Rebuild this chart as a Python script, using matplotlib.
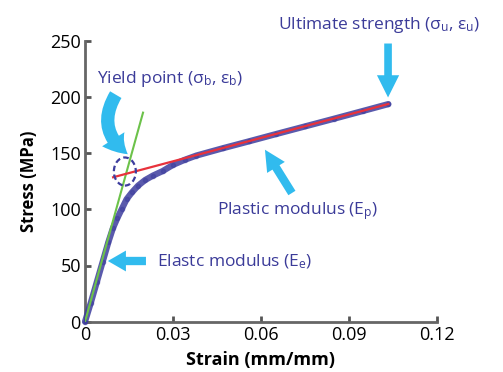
import matplotlib
matplotlib.use("Agg")
import matplotlib.pyplot as plt
from matplotlib.patches import Ellipse

plt.rcParams['font.family'] = ['Open Sans', 'DejaVu Sans']
plt.rcParams['mathtext.default'] = 'regular'

# ---- data ----
strain = [0, 0.002, 0.004, 0.006, 0.008, 0.0095, 0.011, 0.0125, 0.0142, 0.016,
          0.0181, 0.0205, 0.0232, 0.0265, 0.030, 0.034, 0.038, 0.047, 0.056, 0.065,
          0.075, 0.085, 0.095, 0.1035]
stress = [0, 17, 35, 53, 71, 83, 92, 100, 109, 115,
          121, 126, 130, 134, 139.5, 144, 147.8, 154.3, 160.5, 166.8,
          173.7, 180.6, 187.6, 193.6]
elastic_strain = [0, 0.0198]
elastic_stress = [0, 186]
plastic_strain = [0.0096, 0.1035]
plastic_stress = [128.5, 193.7]
yield_point = (0.0136, 133.6)
ultimate_point = (0.1034, 194.5)
xticks = [0, 0.03, 0.06, 0.09, 0.12]
xticklabels = ['0', '0.03', '0.06', '0.09', '0.12']
yticks = [0, 50, 100, 150, 200, 250]

BLUE = '#3d3d9e'
CYAN = '#31bbee'
TXT = '#3b3b99'

fig = plt.figure(figsize=(5.03, 3.72), dpi=100)
ax = fig.add_axes([85/503, 1-321.7/372, (436.7-85)/503, (321.7-40.7)/372])
ax.set_xlim(0, 0.12)
ax.set_ylim(0, 250)

# curve
ax.plot(strain, stress, color=BLUE, lw=4.5, alpha=0.85, solid_capstyle='round',
        clip_on=False, zorder=3)
ax.plot(strain, stress, 'o', color=BLUE, ms=3, alpha=0.5, clip_on=False, zorder=3)
ax.plot(elastic_strain, elastic_stress, color='#6cc24a', lw=1.5, zorder=4)
ax.plot(plastic_strain, plastic_stress, color='#e8323c', lw=1.6, zorder=4)

ax.add_patch(Ellipse(yield_point, 0.0075, 25, fill=False, ec=BLUE, lw=1.6,
                     ls=(0, (2.5, 1.5)), zorder=5))

# arrows
def arrow(tail, tip, tw, hw, hl, rad=0.0):
    ax.annotate('', xy=tip, xytext=tail, xycoords='data', textcoords='data',
                arrowprops=dict(arrowstyle=f'simple,head_width={hw},head_length={hl},tail_width={tw}',
                                color=CYAN, shrinkA=0, shrinkB=0, lw=0,
                                connectionstyle=f'arc3,rad={rad}'),
                annotation_clip=False, zorder=6)

arrow((0.1034, 247.5), (0.1034, 199.5), 0.55, 1.6, 1.6)
arrow((0.0706, 114.5), (0.0614, 153.0), 0.6, 1.5, 1.5)
arrow((0.0208, 54.0), (0.0078, 54.0), 0.6, 1.5, 1.3)
arrow((0.0105, 202.0), (0.0146, 149.0), 0.95, 1.9, 1.5, rad=0.45)

ax.set_xticks(xticks)
ax.set_xticklabels(xticklabels)
ax.set_yticks(yticks)
for s in ['top', 'right']:
    ax.spines[s].set_visible(False)
for s in ['left', 'bottom']:
    ax.spines[s].set_color('#666666')
    ax.spines[s].set_linewidth(2)
ax.tick_params(direction='in', length=4, width=2, color='#555555',
               labelsize=13, pad=3, labelcolor='black')
ax.set_xlabel('Strain (mm/mm)', fontsize=13, fontweight='bold', labelpad=5)
ax.set_ylabel('Stress (MPa)', fontsize=12, fontweight='bold', labelpad=9)

def ftext(x, y, s):
    fig.text(x/503, 1-y/372, s, color=TXT, fontsize=12.5, ha='left', va='baseline')

ftext(278, 29, 'Ultimate strength (σ$_u$, ε$_u$)')
ftext(97, 83, 'Yield point (σ$_b$, ε$_b$)')
ftext(217, 214, 'Plastic modulus (E$_p$)')
ftext(157, 266, 'Elastc modulus (E$_e$)')

fig.savefig('out.png', dpi=100)
